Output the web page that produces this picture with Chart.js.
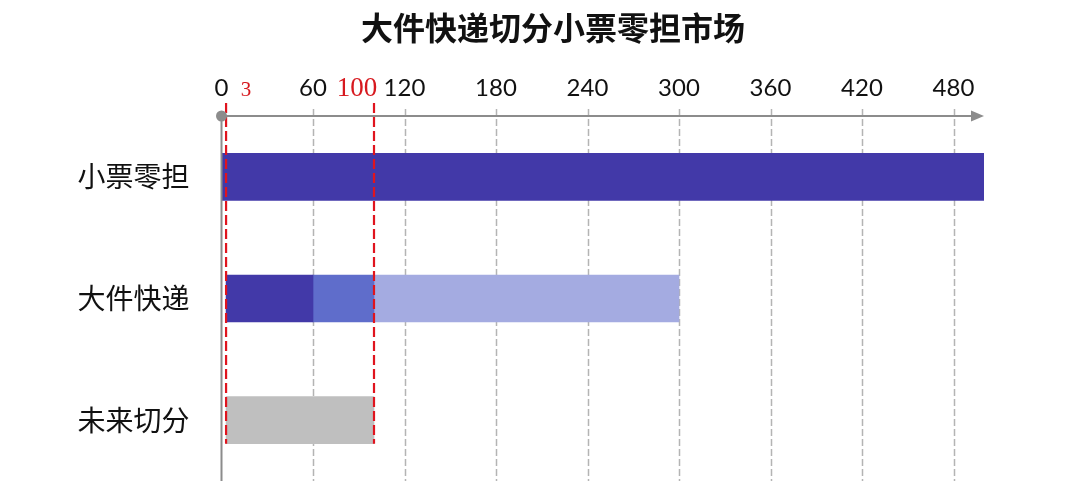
<!DOCTYPE html>
<html>
<head>
<meta charset="utf-8">
<script src="https://cdn.jsdelivr.net/npm/chart.js@4.4.1/dist/chart.umd.min.js"></script>
<style>
  html, body { margin: 0; padding: 0; background: #fff; overflow: hidden; }
  canvas { display: block; }
</style>
</head>
<body>
<canvas id="c" width="1080" height="497"></canvas>
<script>
const categories = ['小票零担', '大件快递', '未来切分'];
// floating bars: [start, end]
const darkPart = [[0, 500], [3, 60], null];
const midPart = [null, [60, 100], null];
const lightPart = [null, [100, 300], null];
const futurePart = [null, null, [3, 100]];
const tickValues = [0, 60, 120, 180, 240, 300, 360, 420, 480];
const markValues = [3, 100];
const axisMax = 500;
const titleText = '大件快递切分小票零担市场';

// gridlines, red marker lines, axes with arrow, title
const decor = {
  id: 'decor',
  beforeDatasetsDraw(chart) {
    const { ctx, chartArea: a, scales: { x } } = chart;
    ctx.save();
    ctx.strokeStyle = '#b4b4b4';
    ctx.lineWidth = 1.5;
    ctx.setLineDash([7, 3]);
    tickValues.slice(1).forEach(v => {
      const px = Math.round(x.getPixelForValue(v)) + 0.5;
      ctx.beginPath();
      ctx.moveTo(px, a.top - 7);
      ctx.lineTo(px, a.bottom);
      ctx.stroke();
    });
    ctx.restore();
  },
  afterDatasetsDraw(chart) {
    const { ctx, chartArea: a, scales: { x } } = chart;
    const lastBar = chart.getDatasetMeta(3).data[2];
    const redBottom = lastBar.y + lastBar.height / 2;
    ctx.save();
    // red dashed markers
    ctx.strokeStyle = '#e0141e';
    ctx.lineWidth = 2.2;
    ctx.setLineDash([10, 4]);
    markValues.forEach(v => {
      const px = x.getPixelForValue(v);
      ctx.beginPath();
      ctx.moveTo(px, a.top - 13);
      ctx.lineTo(px, redBottom);
      ctx.stroke();
    });
    ctx.setLineDash([]);
    // axes
    ctx.strokeStyle = '#8c8c8c';
    ctx.fillStyle = '#8c8c8c';
    ctx.lineWidth = 2;
    const tip = x.getPixelForValue(axisMax);
    ctx.beginPath();
    ctx.moveTo(a.left, a.top);
    ctx.lineTo(tip - 8, a.top);
    ctx.stroke();
    ctx.beginPath();
    ctx.moveTo(tip, a.top);
    ctx.lineTo(tip - 13, a.top - 5.5);
    ctx.lineTo(tip - 13, a.top + 5.5);
    ctx.closePath();
    ctx.fill();
    ctx.beginPath();
    ctx.moveTo(a.left, a.top);
    ctx.lineTo(a.left, a.bottom);
    ctx.stroke();
    ctx.beginPath();
    ctx.arc(a.left, a.top, 5.5, 0, Math.PI * 2);
    ctx.fill();
    // red labels
    ctx.fillStyle = '#d7191f';
    ctx.textBaseline = 'alphabetic';
    ctx.textAlign = 'center';
    ctx.font = '21px "Liberation Serif"';
    ctx.fillText('3', x.getPixelForValue(3) + 20, 96);
    ctx.font = '27px "Liberation Serif"';
    ctx.fillText('100', x.getPixelForValue(100) - 17, 96);
    // title
    ctx.fillStyle = '#111';
    ctx.textBaseline = 'middle';
    ctx.font = 'bold 32px "Noto Sans CJK SC"';
    ctx.fillText(titleText, 553, 28);
    ctx.restore();
  }
};

const barBase = { grouped: false, barThickness: 47, borderWidth: 0 };

new Chart(document.getElementById('c'), {
  type: 'bar',
  data: {
    labels: categories,
    datasets: [
      { ...barBase, label: 'dark', data: darkPart, backgroundColor: '#4239a8' },
      { ...barBase, label: 'mid', data: midPart, backgroundColor: '#5f6dcb' },
      { ...barBase, label: 'light', data: lightPart, backgroundColor: '#a4abe1' },
      { ...barBase, label: 'future', data: futurePart, backgroundColor: '#bfbfbf' }
    ]
  },
  options: {
    indexAxis: 'y',
    responsive: false,
    animation: false,
    layout: { padding: { top: 0, right: 96, bottom: 16, left: 0 } },
    plugins: {
      legend: { display: false },
      title: { display: false },
      tooltip: { enabled: false }
    },
    scales: {
      x: {
        position: 'top',
        min: 0,
        max: axisMax,
        afterBuildTicks: s => { s.ticks = tickValues.map(v => ({ value: v })); },
        afterFit: s => { s.height = 116; s.paddingLeft = 0; s.paddingRight = 0; },
        grid: { display: false },
        border: { display: false },
        ticks: {
          color: '#111',
          padding: 5,
          font: { family: 'Lato', size: 24 }
        }
      },
      y: {
        afterFit: s => { s.width = 221.5; s.paddingTop = 0; s.paddingBottom = 0; },
        grid: { display: false },
        border: { display: false },
        ticks: {
          color: '#111',
          padding: 24,
          font: { family: '"Noto Sans CJK SC"', size: 28 }
        }
      }
    }
  },
  plugins: [decor]
});
</script>
</body>
</html>
